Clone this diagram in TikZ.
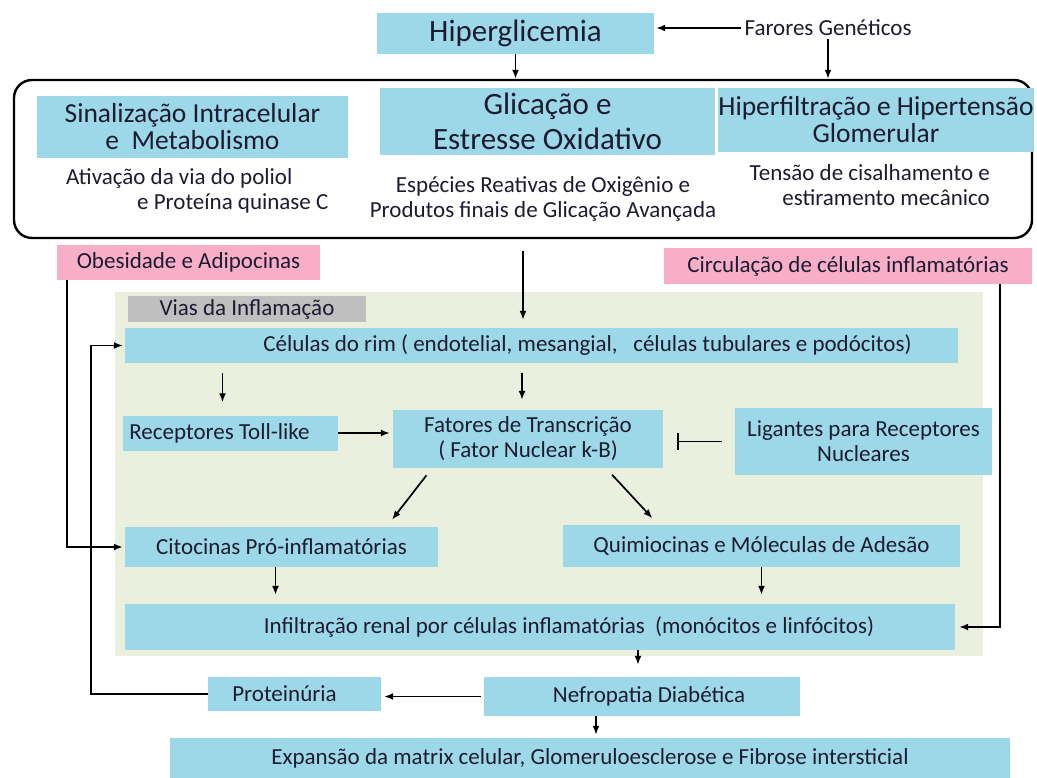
\documentclass[tikz,border=0pt]{standalone}
\usepackage{fontspec}
\setmainfont{Carlito}
\usetikzlibrary{arrows.meta,positioning}
\definecolor{boxblue}{HTML}{9DD8E9}
\definecolor{boxpink}{HTML}{F9AEC8}
\definecolor{bggreen}{HTML}{EBEFDE}
\definecolor{boxgray}{HTML}{BFBFBF}
\definecolor{inkdark}{HTML}{1C1C30}
\newcommand{\bigfont}{\fontsize{31}{35}\selectfont}
\newcommand{\midfont}{\fontsize{27.5}{27}\selectfont}
\newcommand{\smallfont}{\fontsize{23}{25}\selectfont}
\tikzset{
  bluebox/.style={fill=boxblue, inner sep=0pt, text=inkdark, align=center, font=\smallfont},
  pinkbox/.style={fill=boxpink, inner sep=0pt, text=inkdark, font=\smallfont},
  plaintext/.style={text=inkdark, font=\smallfont, inner sep=0pt},
  arr/.style={-{Latex[length=9pt,width=7pt]}, line width=1.7pt, black},
  plain/.style={line width=1.7pt, black},
}
\begin{document}
\begin{tikzpicture}[x=1pt,y=-1pt]
\useasboundingbox (0,0) rectangle (1037,778);
% background of the inflammation pathways
\fill[bggreen] (115,292) rectangle (983,656);
\node (vias) [fill=boxgray, minimum width=238pt, minimum height=26pt, inner sep=0pt, font=\smallfont, text=inkdark] at (247,309) {Vias da Inflamação};
%
\node (hyper) [bluebox, font=\bigfont, minimum width=277pt, minimum height=41pt] at (515.5,33.5) {Hiperglicemia};
\node (farores) [plaintext, inner sep=3pt] at (828,28) {Farores Genéticos};
\node (frame) [draw, line width=2.4pt, rounded corners=18pt, minimum width=1018pt, minimum height=158pt] at (523,159) {};
\node (sinal) [bluebox, font=\midfont, minimum width=311pt, minimum height=62pt] at (192.5,127) {Sinalização Intracelular\\e\ \ Metabolismo};
\node (glic) [bluebox, font=\bigfont, minimum width=335pt, minimum height=67pt] at (547.5,121.5) {Glicação e\\Estresse Oxidativo};
\node (hfilt) [bluebox, font=\midfont, minimum width=308pt, minimum height=64pt] at (876,120) {Hiperfiltração e Hipertensão\\Glomerular};
\node (poliol) [plaintext, align=left, anchor=west] at (66,190.5) {Ativação da via do poliol\\\hspace*{71pt}e Proteína quinase C};
\node (ero) [plaintext, align=center] at (543,198.5) {Espécies Reativas de Oxigênio e\\Produtos finais de Glicação Avançada};
\node (tensao) [plaintext, align=right, anchor=east] at (990,185) {Tensão de cisalhamento e\\estiramento mecânico};
%
\node (obes) [pinkbox, minimum width=263pt, minimum height=35pt] at (188.5,262.5) {Obesidade e Adipocinas};
\node (circ) [pinkbox, minimum width=368pt, minimum height=36pt] at (848,266) {Circulação de células inflamatórias};
%
\node (celulas) [bluebox, minimum width=833pt, minimum height=35pt] at (541.5,345.5) {\hspace*{92pt}Células do rim ( endotelial, mesangial,\ \ \ células tubulares e podócitos)};
\node (toll) [bluebox, minimum width=215pt, minimum height=35pt] at (230.5,433) {Receptores Toll-like\hspace*{22pt}};
\node (fatores) [bluebox, minimum width=270pt, minimum height=58pt] at (528,439) {Fatores de Transcrição\\( Fator Nuclear k-B)};
\node (ligantes) [bluebox, minimum width=257pt, minimum height=67pt] at (863.5,441.5) {Ligantes para Receptores\\Nucleares};
\node (citoc) [bluebox, minimum width=313pt, minimum height=40pt] at (281.5,547) {Citocinas Pró-inflamatórias};
\node (quimio) [bluebox, minimum width=397pt, minimum height=42pt] at (761.5,546) {Quimiocinas e Móleculas de Adesão};
\node (infiltr) [bluebox, minimum width=830pt, minimum height=46pt] at (540,627) {\hspace*{58pt}Infiltração renal por células inflamatórias\ \ (monócitos e linfócitos)};
\node (prot) [bluebox, minimum width=173pt, minimum height=34pt] at (294.5,694) {Proteinúria\hspace*{20pt}};
\node (nefro) [bluebox, minimum width=316pt, minimum height=39pt] at (642,696.5) {\hspace*{14pt}Nefropatia Diabética};
\node (expan) [bluebox, minimum width=840pt, minimum height=40pt] at (590,758) {Expansão da matrix celular, Glomeruloesclerose e Fibrose intersticial};
%
\coordinate (tollin) at ([xshift=-8pt]toll.north);
\coordinate (fatin) at ([xshift=-6pt]fatores.north);
\coordinate (citout) at ([xshift=-6pt]citoc.south);
\coordinate (nefin) at ([xshift=-4pt]nefro.north);
\coordinate (nefout) at ([xshift=-46pt]nefro.south);
%
\draw[arr, shorten >=2pt] (farores.west) -- (farores.west -| hyper.east);
\draw[arr] (hyper.south) -- (hyper.south |- frame.north);
\draw[arr] (farores.south) -- (farores.south |- frame.north);
\draw[arr, shorten <=12pt, shorten >=8pt] (frame.south) -- (frame.south |- celulas.north);
\draw[arr, shorten <=10pt, shorten >=13pt] (tollin |- celulas.south) -- (tollin);
\draw[arr, shorten <=10pt, shorten >=10pt] (fatin |- celulas.south) -- (fatin);
\draw[arr, shorten >=3pt] (toll.east) -- (toll.east -| fatores.west);
\draw[plain, -{Bar[width=17pt]}, shorten <=13pt, shorten >=14pt] (ligantes.west) -- (ligantes.west -| fatores.east);
\draw[arr, shorten <=9pt, shorten >=9pt] ([xshift=-96pt]fatores.south) -- ([xshift=105pt]citoc.north);
\draw[arr, shorten <=9pt, shorten >=9pt] ([xshift=78pt]fatores.south) -- ([xshift=-103pt]quimio.north);
\draw[arr, shorten >=9pt] (citout) -- (citout |- infiltr.north);
\draw[arr, shorten >=9pt] (quimio.south) -- (quimio.south |- infiltr.north);
\draw[arr, shorten >=12pt] (nefin |- infiltr.south) -- (nefin);
\draw[arr, shorten <=3pt, shorten >=3pt] (nefro.west) -- (nefro.west -| prot.east);
\draw[arr, shorten >=3pt] (nefout) -- (nefout |- expan.north);
% side loops
\draw[arr, shorten >=2pt] ([xshift=10pt]obes.south west) |- (citoc.west);
\draw[arr, shorten >=4pt] ([xshift=-32pt]circ.south east) |- (infiltr.east);
\draw[arr, shorten >=2pt] (prot.west) -- ++(-117,0) |- (celulas.west);
\end{tikzpicture}
\end{document}
